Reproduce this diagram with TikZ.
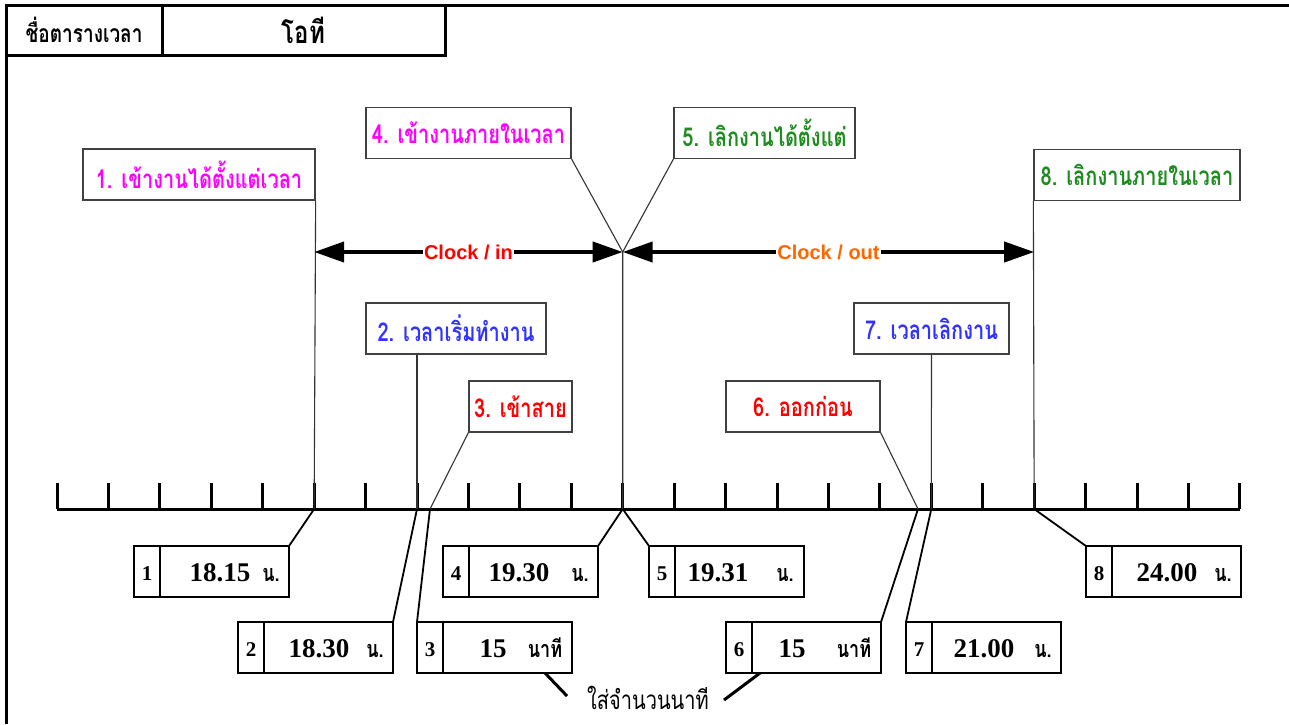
\documentclass[tikz,border=0pt]{standalone}
\usepackage{fontspec}
\usepackage{graphicx}
\usetikzlibrary{arrows.meta,calc}
\newfontfamily\thaifont[Script=Thai]{Loma}
\newfontfamily\numfont{Liberation Serif}
\newfontfamily\clkfont{Liberation Sans}
\newcommand{\tallth}[1]{\scalebox{1}[1.3]{#1}}
\definecolor{cMag}{RGB}{255,0,255}
\definecolor{cGrn}{RGB}{30,140,30}
\definecolor{cBlu}{RGB}{51,51,255}
\definecolor{cRed}{RGB}{255,0,0}
\definecolor{cOrg}{RGB}{255,102,0}
\begin{document}
\begin{tikzpicture}[x=1pt,y=-1pt,
  frame/.style={line width=3pt},
  hdr/.style={draw, line width=3pt, outer sep=0pt, inner sep=0pt, minimum height=50pt, anchor=north west},
  lbl/.style={draw=black!75, line width=1.3pt, fill=white, inner sep=0pt, minimum height=51pt,
     font=\thaifont\bfseries\fontsize{20}{24}\selectfont},
  idxbox/.style={draw, line width=2pt, outer sep=0pt, inner sep=0pt, minimum height=51pt, minimum width=26pt, anchor=north west},
  valbox/.style={draw, line width=2pt, outer sep=0pt, inner sep=0pt, minimum height=51pt, minimum width=129pt, anchor=north west},
  idxtxt/.style={font=\numfont\bfseries\fontsize{21}{24}\selectfont, inner sep=0pt},
  numtxt/.style={font=\numfont\bfseries\fontsize{27}{30}\selectfont, inner sep=0pt, anchor=base},
  unittxt/.style={font=\thaifont\bfseries\fontsize{18}{22}\selectfont, inner sep=0pt, anchor=base},
  lead/.style={line width=1.1pt, black!80},
  vlead/.style={line width=1.8pt, black},
  notel/.style={line width=3pt, black},
  clk/.style={line width=4pt, {Triangle[length=30pt,width=20pt]}-{Triangle[length=30pt,width=20pt]}},
  clktxt/.style={font=\clkfont\bfseries\fontsize{20}{24}\selectfont, fill=white, inner sep=1pt},
  axis/.style={line width=3pt}
]
\useasboundingbox (0,0) rectangle (1289,724);

% frame and header
\node[hdr, minimum width=156pt, font=\thaifont\bfseries\fontsize{19}{22}\selectfont] (H1) at (6,5) {\tallth{ชื่อตารางเวลา}};
\node[hdr, minimum width=283pt, font=\thaifont\bfseries\fontsize{24}{28}\selectfont] (H2) at (H1.north east) {\tallth{โอที}};
\draw[frame] (6,724) -- (H1.north west) -- (1289,5);

% timeline
\foreach \i in {0,...,23} {
  \coordinate (T\i) at ({57+51.43*\i},509);
  \draw[axis] (T\i) -- ++(0,-26);
}
\draw[axis] (T0) -- (T23);
\coordinate (P3) at (430,509);
\coordinate (P6) at (918,509);
\coordinate (M) at (622.7,252);
\coordinate (A1) at (314.15,252);
\coordinate (A2) at (1034.2,252);

% label boxes
\node[lbl, minimum width=232pt, text=cMag] (L1) at (199,174.5) {\tallth{1. เข้างานได้ตั้งแต่เวลา}};
\node[lbl, minimum width=205pt, text=cMag] (L4) at (468.5,133) {\tallth{4. เข้างานภายในเวลา}};
\node[lbl, minimum width=181pt, text=cGrn] (L5) at (764.5,133) {\tallth{5. เลิกงานได้ตั้งแต่}};
\node[lbl, minimum width=206pt, text=cGrn] (L8) at (1137,175) {\tallth{8. เลิกงานภายในเวลา}};
\node[lbl, minimum width=180pt, text=cBlu] (L2) at (456,328.5) {\tallth{2. เวลาเริ่มทำงาน}};
\node[lbl, minimum width=155pt, text=cBlu] (L7) at (931.5,328.5) {\tallth{7. เวลาเลิกงาน}};
\node[lbl, minimum width=103pt, text=cRed] (L3) at (520.5,406.5) {\tallth{3. เข้าสาย}};
\node[lbl, minimum width=154pt, text=cRed] (L6) at (803,406.5) {\tallth{6. ออกก่อน}};

% leaders from labels
\draw[lead] (L1.south east) -- (T5);
\draw[lead] (L4.south east) -- (M);
\draw[lead] (L5.south west) -- (M);
\draw[lead] (M) -- (T11);
\draw[lead] (L8.south west) -- (T19);
\draw[lead] (L2.south -| T7) -- (T7);
\draw[lead] (L7.south) -- (T17);
\draw[lead] (L3.south west) -- (P3);
\draw[lead] (L6.south east) -- (P6);

% clock arrows
\draw[clk] (A1) -- (M);
\draw[clk] (M) -- (A2);
\node[clktxt, text=cRed] (CI) at (468.5,252) {Clock / in};
\node[clktxt, text=cOrg] (CO) at (828.5,252) {Clock / out};

% value boxes
\foreach \n/\x/\y in {1/134/546, 2/238/622, 3/417/622, 4/443/546, 5/649/546, 6/726/622, 7/906/622, 8/1086/546} {
  \node[idxbox] (I\n) at (\x,\y) {};
  \node[valbox] (V\n) at (I\n.north east) {};
  \node[idxtxt, anchor=base] (IT\n) at ($(I\n.north)+(0,34)$) {\n};
}
\node[numtxt] (N1) at (220,581) {18.15};  \node[unittxt] (U1) at (271,581) {\tallth{น.}};
\node[numtxt] (N2) at (319,657) {18.30};  \node[unittxt] (U2) at (375,657) {\tallth{น.}};
\node[numtxt] (N3) at (493,657) {15};     \node[unittxt] (U3) at (545,657) {\tallth{นาที}};
\node[numtxt] (N4) at (519,581) {19.30};  \node[unittxt] (U4) at (580,581) {\tallth{น.}};
\node[numtxt] (N5) at (718,581) {19.31};  \node[unittxt] (U5) at (785,581) {\tallth{น.}};
\node[numtxt] (N6) at (792,657) {15};     \node[unittxt] (U6) at (854,657) {\tallth{นาที}};
\node[numtxt] (N7) at (984,657) {21.00};  \node[unittxt] (U7) at (1043,657) {\tallth{น.}};
\node[numtxt] (N8) at (1167,581) {24.00}; \node[unittxt] (U8) at (1223,581) {\tallth{น.}};

% leaders to value boxes
\draw[vlead] (V1.north east) -- (T5);
\draw[vlead] (V2.north east) -- (T7);
\draw[vlead] (I3.north west) -- (P3);
\draw[vlead] (V4.north east) -- (T11);
\draw[vlead] (I5.north west) -- (T11);
\draw[vlead] (V6.north east) -- (P6);
\draw[vlead] (I7.north west) -- (T17);
\draw[vlead] (I8.north west) -- (T19);

% note
\node[font=\thaifont\fontsize{20}{24}\selectfont, inner sep=0pt] (NT) at (648,698) {\tallth{ใส่จำนวนนาที}};
\coordinate (c3) at (545,673);
\coordinate (c6) at (760,673);
\draw[notel] (c3) -- ($(NT.west)+(-20,-2)$);
\draw[notel] (c6) -- ($(NT.east)+(15,2)$);
\end{tikzpicture}
\end{document}
